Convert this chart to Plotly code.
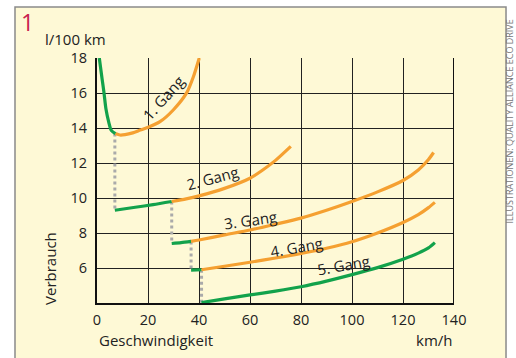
import plotly.graph_objects as go

# ---- data (km/h, l/100 km) ----
g1_green_x = [0.9, 2.0, 2.7, 3.5, 4.6, 5.6, 7.2]
g1_green_y = [18.0, 16.8, 16.06, 15.1, 14.34, 13.87, 13.68]
g1_orange_x = [7.2, 9, 11, 14, 17, 20.1, 24.7, 29.9, 35.2, 37.8, 40.1]
g1_orange_y = [13.68, 13.6, 13.62, 13.72, 13.88, 14.04, 14.36, 15.03, 16.02, 16.93, 18.0]

g2_green_x = [7.0, 15, 22, 29.3]
g2_green_y = [9.3, 9.47, 9.62, 9.8]
g2_orange_x = [29.3, 35, 40, 50, 60, 65, 70, 76]
g2_orange_y = [9.8, 9.95, 10.12, 10.55, 11.13, 11.6, 12.15, 12.95]

g3_green_x = [29.3, 33, 36.9]
g3_green_y = [7.4, 7.45, 7.52]
g3_orange_x = [36.9, 40, 50, 60, 70, 80, 90, 100, 110, 120, 126, 130, 132]
g3_orange_y = [7.52, 7.6, 7.89, 8.17, 8.5, 8.85, 9.3, 9.8, 10.35, 11.0, 11.6, 12.2, 12.6]

g4_green_x = [36.9, 41]
g4_green_y = [5.88, 5.9]
g4_orange_x = [41, 50, 60, 70, 80, 90, 100, 110, 120, 126, 130, 132.5]
g4_orange_y = [5.9, 6.1, 6.33, 6.57, 6.83, 7.13, 7.5, 8.0, 8.6, 9.05, 9.45, 9.75]

g5_green_x = [41, 50, 60, 70, 80, 90, 100, 110, 120, 126, 130, 132.5]
g5_green_y = [4.02, 4.24, 4.46, 4.68, 4.93, 5.25, 5.62, 6.02, 6.5, 6.85, 7.15, 7.45]

# gear-change drops (speed, from, to)
shift_x = [7.0, 29.3, 36.9, 41]
shift_from = [13.68, 9.8, 7.52, 5.9]
shift_to = [9.3, 7.4, 5.88, 4.0]

gear_labels = ["1. Gang", "2. Gang", "3. Gang", "4. Gang", "5. Gang"]
label_x = [25.9, 45.1, 60, 78.4, 96.5]
label_y = [15.7, 11.14, 8.74, 7.2, 6.17]
label_angle = [-48, -15, -8, -10, -10]

x_ticks = [0, 20, 40, 60, 80, 100, 120, 140]
y_ticks = [6, 8, 10, 12, 14, 16, 18]

GREEN = "#12A24B"
ORANGE = "#F5A031"
CREAM = "#FEF9D6"
TXT = "#222222"

fig = go.Figure()

# dotted shift lines
for sx, sf, st in zip(shift_x, shift_from, shift_to):
    fig.add_trace(go.Scatter(x=[sx, sx], y=[sf, st], mode="lines",
                             line=dict(color="#AAAAAA", width=3, dash="dot"),
                             hoverinfo="skip", showlegend=False))

def seg(x, y, c):
    fig.add_trace(go.Scatter(x=x, y=y, mode="lines",
                             line=dict(color=c, width=3.2, shape="spline", smoothing=0.7),
                             hoverinfo="skip", showlegend=False, cliponaxis=False))

seg(g1_orange_x, g1_orange_y, ORANGE)
seg(g1_green_x, g1_green_y, GREEN)
seg(g2_green_x, g2_green_y, GREEN)
seg(g2_orange_x, g2_orange_y, ORANGE)
seg(g3_green_x, g3_green_y, GREEN)
seg(g3_orange_x, g3_orange_y, ORANGE)
seg(g4_green_x, g4_green_y, GREEN)
seg(g4_orange_x, g4_orange_y, ORANGE)
seg(g5_green_x, g5_green_y, GREEN)

font = dict(family="Open Sans, Noto Sans, sans-serif", size=15, color=TXT)
tickfont = dict(family="Open Sans, Noto Sans, sans-serif", size=14.5, color=TXT)

for t, lx, ly, a in zip(gear_labels, label_x, label_y, label_angle):
    fig.add_annotation(x=lx, y=ly, text=t, textangle=a, showarrow=False,
                       font=font, xref="x", yref="y")

# frame
fig.add_shape(type="rect", xref="paper", yref="paper",
              x0=-0.2297, x1=1.1457, y0=-0.4, y1=1.208,
              fillcolor=CREAM, line=dict(color="#8A8A8A", width=1.5), layer="below")
# right border of plot
fig.add_shape(type="line", xref="x", yref="y", x0=140, x1=140, y0=4, y1=18,
              line=dict(color="#111111", width=2), layer="above")

ann = [
    dict(x=-0.196, y=1.145, text="1", font=dict(family="Open Sans, sans-serif", size=23, color="#C8204F"),
         xanchor="center", yanchor="middle"),
    dict(x=-0.151, y=1.078, text="l/100 km", font=font, xanchor="left", yanchor="middle"),
    dict(x=-0.1317, y=0.143, text="Verbrauch", font=font, textangle=-90, xanchor="center", yanchor="middle"),
    dict(x=0, y=-0.149, text="Geschwindigkeit", font=font, xanchor="left", yanchor="middle"),
    dict(x=1, y=-0.149, text="km/h", font=font, xanchor="right", yanchor="middle"),
    dict(x=1.1555, y=0.739, text="ILLUSTRATIONEN: QUALITY ALLIANCE ECO DRIVE",
         font=dict(family="Open Sans, sans-serif", size=9, color="#777777"),
         textangle=-90, xanchor="center", yanchor="middle"),
]
for a in ann:
    fig.add_annotation(xref="paper", yref="paper", showarrow=False, **a)

fig.update_layout(
    width=516, height=358,
    margin=dict(l=97, r=62, t=58, b=55),
    paper_bgcolor="white", plot_bgcolor=CREAM,
    font=font,
    xaxis=dict(range=[0, 140], tickvals=x_ticks, showgrid=True, gridcolor="#222222", gridwidth=1,
               zeroline=False, showline=True, linecolor="#111111", linewidth=2,
               ticks="outside", ticklen=3, tickcolor="rgba(0,0,0,0)", tickfont=tickfont, fixedrange=True),
    yaxis=dict(range=[4, 18], tickvals=y_ticks, showgrid=True, gridcolor="#222222", gridwidth=1,
               zeroline=False, showline=True, linecolor="#111111", linewidth=2,
               ticks="outside", ticklen=5, tickcolor="rgba(0,0,0,0)", tickfont=tickfont, fixedrange=True),
)

# remove the default page margin so the figure sits at the window's corner
fig.write_html("out.html", config={"displayModeBar": False},
               post_script="document.body.style.margin='0px';")
